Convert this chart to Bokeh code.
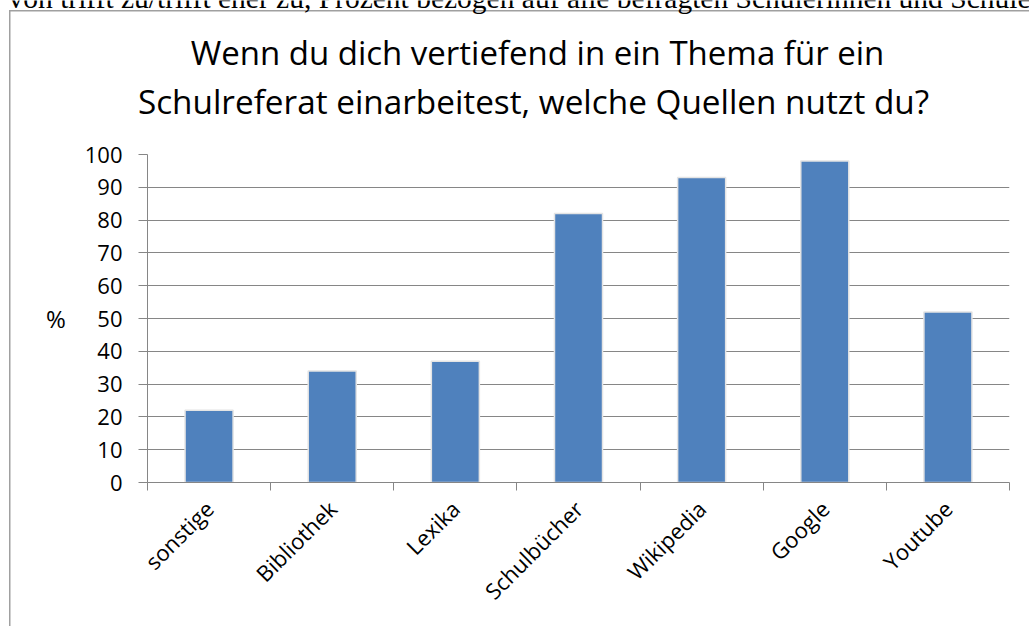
import math
from bokeh.plotting import figure
from bokeh.layouts import column
from bokeh.models import Range1d, FixedTicker, Label, LinearAxis, Grid
from bokeh.embed import file_html
from bokeh.resources import INLINE

categories = ["sonstige", "Bibliothek", "Lexika", "Schulbücher", "Wikipedia", "Google", "Youtube"]
values = [22, 34, 37, 82, 93, 98, 52]
y_ticks = [0, 10, 20, 30, 40, 50, 60, 70, 80, 90, 100]
title_lines = ["Wenn du dich vertiefend in ein Thema für ein",
               "Schulreferat einarbeitest, welche Quellen nutzt du?"]
y_label = "%"
header_text = "von trifft zu/trifft eher zu, Prozent bezogen auf alle befragten Schülerinnen und Schüler"

n = len(categories)
centers = [i + 0.5 for i in range(n)]
bounds = list(range(n + 1))

W, H = 1029, 626
HEAD_H = 139          # height of the title strip
FONT = "Open Sans"
AX = "#868686"

# ---------- title strip (pixel coordinates, y downwards) ----------
head = figure(width=W, height=HEAD_H, x_range=Range1d(0, W), y_range=Range1d(HEAD_H, 0),
              output_backend="svg", toolbar_location=None,
              x_axis_type=None, y_axis_type=None, min_border=0)
head.grid.visible = False
head.outline_line_color = None
head.border_fill_color = None
head.background_fill_color = None
try:
    head.frame_align = False
except Exception:
    pass

head.add_layout(Label(x=8, y=-3, text=header_text, text_align="left", text_baseline="alphabetic",
                      text_font="Liberation Serif", text_font_size="29.5px", text_color="black"))
head.add_layout(Label(x=537, y=52, text=title_lines[0], text_align="center", text_baseline="alphabetic",
                      text_font=FONT, text_font_size="33px", text_color="black"))
head.add_layout(Label(x=533, y=100, text=title_lines[1], text_align="center", text_baseline="alphabetic",
                      text_font=FONT, text_font_size="33.3px", text_color="black"))

# ---------- chart ----------
CH = H - HEAD_H
FL = 147
FT = 154 - HEAD_H
FB = 482 - HEAD_H
p = figure(width=W, height=CH, x_range=Range1d(0, n), y_range=Range1d(0, 100),
           output_backend="svg", toolbar_location=None,
           x_axis_type=None, y_axis_type=None,
           min_border_left=FL, min_border_right=20, min_border_top=FT, min_border_bottom=CH - FB)
p.outline_line_color = None
p.border_fill_color = None
p.background_fill_color = None
try:
    p.frame_align = False
except Exception:
    pass

yaxis = LinearAxis(ticker=FixedTicker(ticks=y_ticks))
yaxis.axis_line_color = AX
yaxis.major_tick_line_color = AX
yaxis.major_tick_out = 9
yaxis.major_tick_in = 0
yaxis.minor_tick_line_color = None
yaxis.major_label_standoff = 16
yaxis.major_label_text_font = FONT
yaxis.major_label_text_font_size = "22px"
yaxis.major_label_text_color = "black"
yaxis.axis_label = y_label
yaxis.axis_label_text_font = FONT
yaxis.axis_label_text_font_size = "24px"
yaxis.axis_label_text_font_style = "normal"
yaxis.axis_label_text_color = "black"
yaxis.axis_label_standoff = 16
try:
    yaxis.axis_label_orientation = "horizontal"
except Exception:
    pass
p.add_layout(yaxis, "left")

p.add_layout(Grid(dimension=1, ticker=yaxis.ticker, grid_line_color=AX, grid_line_width=1.2))

xaxis = LinearAxis(ticker=FixedTicker(ticks=centers, minor_ticks=bounds),
                   major_label_overrides={c: cat for c, cat in zip(centers, categories)})
xaxis.axis_line_color = AX
xaxis.axis_line_width = 1.2
xaxis.major_tick_line_color = None
xaxis.minor_tick_line_color = AX
xaxis.minor_tick_out = 8
xaxis.minor_tick_in = 0
xaxis.major_label_orientation = math.pi / 4
xaxis.major_label_standoff = 14
xaxis.major_label_text_font = FONT
xaxis.major_label_text_font_size = "22px"
xaxis.major_label_text_color = "black"
p.add_layout(xaxis, "below")

p.vbar(x=centers, top=values, width=0.39, bottom=0,
       fill_color="#4F81BD", line_color="#e4e4e4", line_width=1.5)

layout = column(head, p, spacing=0)
layout.styles = {
    "background-color": "white",
    "box-shadow": "inset 9px 10px 0 0 #ffffff, inset 10.5px 11.5px 0 0 #a0a0a0",
}

open("out.html", "w").write(file_html(layout, INLINE))
